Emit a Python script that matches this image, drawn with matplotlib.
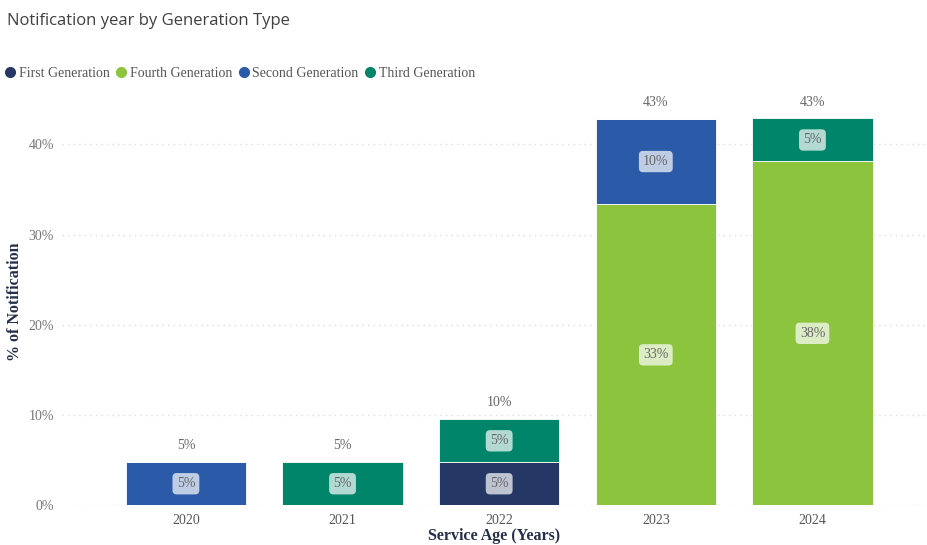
import numpy as np
import matplotlib.pyplot as plt
from matplotlib.lines import Line2D

years = ["2020", "2021", "2022", "2023", "2024"]
series = ["First Generation", "Fourth Generation", "Second Generation", "Third Generation"]
# % of notifications per year and generation (multiples of 1/21)
first_gen = [0, 0, 4.76, 0, 0]
fourth_gen = [0, 0, 0, 33.33, 38.10]
second_gen = [4.76, 0, 0, 9.52, 0]
third_gen = [0, 4.76, 4.76, 0, 4.76]

colors = {
    "First Generation": "#253764",
    "Fourth Generation": "#8CC43E",
    "Second Generation": "#2B5BA8",
    "Third Generation": "#00856A",
}
# stacking order bottom -> top
stack = [("First Generation", first_gen), ("Fourth Generation", fourth_gen),
         ("Second Generation", second_gen), ("Third Generation", third_gen)]

serif = ["Liberation Serif", "DejaVu Serif"]

fig = plt.figure(figsize=(9.28, 5.45), dpi=100)
ax = fig.add_axes([0.067, 0.073, 0.93, 0.745])

x = np.arange(len(years))
bottom = np.zeros(len(years))
for name, vals in stack:
    vals = np.array(vals)
    ax.bar(x, vals, 0.77, bottom=bottom, color=colors[name],
           edgecolor="white", linewidth=0.6, zorder=2)
    for i, v in enumerate(vals):
        if v > 0:
            ax.text(x[i], bottom[i] + v / 2, f"{v:.0f}%", ha="center", va="center",
                    fontsize=10, family=serif, color="#666666", zorder=4,
                    bbox=dict(boxstyle="round,pad=0.3,rounding_size=0.3",
                              fc="white", ec="none", alpha=0.7))
    bottom += vals

for i, t in enumerate(bottom):
    ax.text(x[i], t + 1.1, f"{t:.0f}%", ha="center", va="bottom",
            fontsize=10, family=serif, color="#666666")

ax.set_xlim(-0.79, 4.72)
ax.set_ylim(0, 45)
ax.set_yticks([0, 10, 20, 30, 40])
ax.set_yticklabels([f"{v}%" for v in [0, 10, 20, 30, 40]], family=serif,
                   fontsize=10, color="#777777")
ax.set_xticks(x)
ax.set_xticklabels(years, family=serif, fontsize=10, color="#555555")
ax.tick_params(length=0, pad=6)
ax.grid(axis="y", linestyle=(0, (1, 3)), color="#dddddd", linewidth=1, zorder=0)
for s in ax.spines.values():
    s.set_visible(False)

ax.set_xlabel("Service Age (Years)", family=serif, fontsize=11.5, fontweight="bold",
              color="#252f4a", labelpad=1)
ax.set_ylabel("% of Notification", family=serif, fontsize=11.5, fontweight="bold",
              color="#252f4a")
ax.yaxis.set_label_coords(-0.045, 0.5)

fig.text(0.008, 0.962, "Notification year by Generation Type", fontsize=12,
         color="#404040", va="center", family=["Open Sans", "DejaVu Sans"])

handles = [Line2D([], [], marker="o", linestyle="none", markersize=7,
                  color=colors[n]) for n in series]
fig.legend(handles, series, loc="center left", bbox_to_anchor=(0.006, 0.866),
           ncol=4, frameon=False, handlelength=0.7, handletextpad=0.25,
           columnspacing=0.5, prop={"family": serif, "size": 10},
           labelcolor="#555555", borderaxespad=0, borderpad=0)

fig.savefig("out.png", dpi=100)
